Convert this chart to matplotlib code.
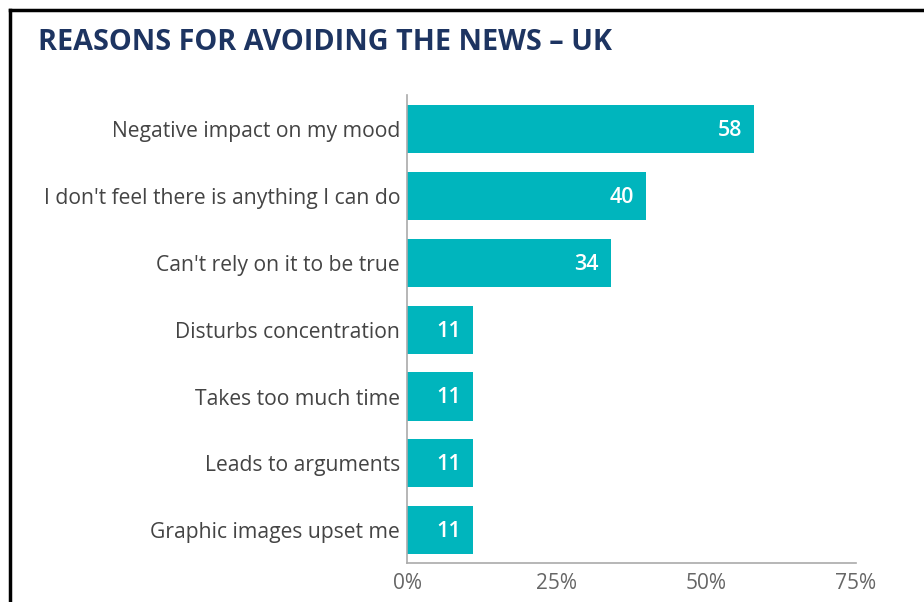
import matplotlib
matplotlib.use("Agg")
import matplotlib.pyplot as plt
from matplotlib.lines import Line2D

categories = [
    "Negative impact on my mood",
    "I don't feel there is anything I can do",
    "Can't rely on it to be true",
    "Disturbs concentration",
    "Takes too much time",
    "Leads to arguments",
    "Graphic images upset me",
]
values = [58, 40, 34, 11, 11, 11, 11]
xticks = [0, 25, 50, 75]
xtick_labels = ["0%", "25%", "50%", "75%"]
title = "REASONS FOR AVOIDING THE NEWS \u2013 UK"

W, H = 924, 602
fig = plt.figure(figsize=(W / 100, H / 100), dpi=100)
fig.patch.set_facecolor("white")

x0, x1 = 407, 856
y_top, y_bot = 95, 563
ax = fig.add_axes([x0 / W, 1 - y_bot / H, (x1 - x0) / W, (y_bot - y_top) / H])

bar_color = "#00b5bd"
n = len(categories)
ypos = list(range(n))
ax.barh(ypos, values, height=0.72, color=bar_color, zorder=2)
ax.set_ylim(n - 0.51, -0.51)
ax.set_xlim(0, 75)

font = "Open Sans"
for y, v in zip(ypos, values):
    ax.text(v - 2.0, y + 0.02, str(v), ha="right", va="center", color="white",
            fontsize=15.5, fontweight="semibold", family=font, zorder=3)

ax.set_yticks(ypos)
ax.set_yticklabels(categories, fontsize=15.2, color="#444444", family=font)
ax.tick_params(axis="y", length=0, pad=5)
ax.set_xticks(xticks)
ax.set_xticklabels(xtick_labels, fontsize=15, color="#666666", family=font)
ax.tick_params(axis="x", length=0, pad=7)

for s in ["top", "right"]:
    ax.spines[s].set_visible(False)
ax.spines["left"].set_color("#aaaaaa")
ax.spines["bottom"].set_color("#aaaaaa")
ax.spines["left"].set_linewidth(1.2)
ax.spines["bottom"].set_linewidth(1.2)

fig.text(38 / W, 1 - 43 / H, title, ha="left", va="center", fontsize=20.7,
         fontweight="bold", color="#1d3461", family=font)

fig.add_artist(Line2D([10 / W, 1], [1 - 10 / H, 1 - 10 / H], color="black", lw=2.5,
                      transform=fig.transFigure))
fig.add_artist(Line2D([10 / W, 10 / W], [0, 1 - 10 / H], color="black", lw=2.5,
                      transform=fig.transFigure))

fig.savefig("out.png", dpi=100, facecolor="white")
